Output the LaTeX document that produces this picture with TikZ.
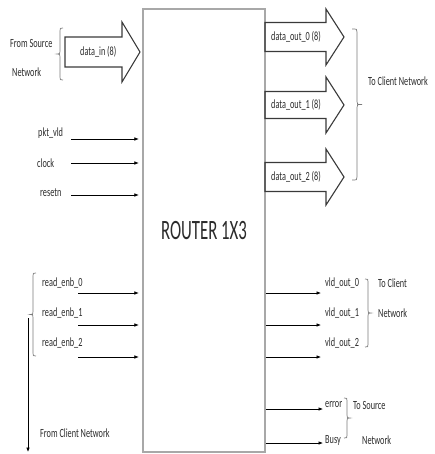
\documentclass[tikz,border=0pt]{standalone}
\usepackage{fontspec}
\newfontfamily\lblfont[FakeStretch=0.66]{Carlito}
\newfontfamily\ttlfont[FakeStretch=0.6]{Carlito}
\usetikzlibrary{arrows.meta}
\definecolor{txt}{HTML}{2B2B2B}
\definecolor{boxc}{HTML}{A8A8A8}
\definecolor{blkc}{HTML}{3A3A3A}
\definecolor{brkc}{HTML}{7A7A7A}
\newcommand\mybrace[4]{% x, top, bottom, signed point size (+ points right)
  \draw[brk] ({#1-#4},#2) .. controls ({#1},#2) .. ({#1},{#2+3})
    -- ({#1},{(#2+#3)/2-3}) .. controls ({#1},{(#2+#3)/2}) .. ({#1+#4},{(#2+#3)/2})
    .. controls ({#1},{(#2+#3)/2}) .. ({#1},{(#2+#3)/2+3})
    -- ({#1},{#3-3}) .. controls ({#1},#3) .. ({#1-#4},#3);}
\newcommand\blockarrow[6]{% x1, x2, xtip, yc, shaft half, head half
  \draw[blk] (#1,{#4-#5}) -- (#2,{#4-#5}) -- (#2,{#4-#6}) -- (#3,#4)
    -- (#2,{#4+#6}) -- (#2,{#4+#5}) -- (#1,{#4+#5}) -- cycle;}
\begin{document}
\begin{tikzpicture}[x=1pt,y=-1pt,
  lbl/.style={font=\lblfont\fontsize{12.5}{14}\selectfont, text=txt, inner sep=0pt, anchor=west},
  blk/.style={draw=blkc, line width=1.1pt, line join=miter},
  sig/.style={draw=black, line width=0.7pt, -{Latex[length=4.5pt,width=3.6pt]}},
  brk/.style={draw=brkc, line width=0.7pt}]
\useasboundingbox (0,0) rectangle (435,454);

\node[draw=boxc, line width=1.3pt, minimum width=122pt, minimum height=443pt, inner sep=0pt,
      font=\ttlfont\fontsize{28}{30}\selectfont, text=txt] (router) at (204,230.5) {ROUTER 1X3};

% input bus
\blockarrow{65}{122}{140}{52}{15}{30}
\node[lbl] (din) at (80,52) {data\_in (8)};
\node[lbl] (fs1) at (10,43) {From Source};
\node[lbl] (fs2) at (12,72) {Network};
\mybrace{60}{28}{80}{-3}

% output buses
\blockarrow{265}{326}{344}{37}{14.5}{28}
\blockarrow{265}{326}{344}{105}{13.5}{28}
\blockarrow{265}{326}{344}{177}{14.5}{28}
\node[lbl] (do0) at (271,37) {data\_out\_0 (8)};
\node[lbl] (do1) at (271,105) {data\_out\_1 (8)};
\node[lbl] (do2) at (271,177) {data\_out\_2 (8)};
\mybrace{357}{29}{180}{5}
\node[lbl] (tcn) at (368,81) {To Client Network};

% control inputs
\node[lbl] (pkt) at (38,133) {pkt\_vld};
\node[lbl] (clk) at (37,163) {clock};
\node[lbl] (rst) at (40,193) {resetn};
\coordinate (pktS) at (71,139);
\coordinate (clkS) at (71,163);
\coordinate (rstS) at (71,195);
\draw[sig, shorten >=3.5pt] (pktS) -- (pktS -| router.west);
\draw[sig, shorten >=3.5pt] (clkS) -- (clkS -| router.west);
\draw[sig, shorten >=3.5pt] (rstS) -- (rstS -| router.west);

% read enables
\node[lbl] (re0) at (42,283) {read\_enb\_0};
\node[lbl] (re1) at (42,313) {read\_enb\_1};
\node[lbl] (re2) at (42,343) {read\_enb\_2};
\coordinate (re0S) at (78,293);
\coordinate (re1S) at (78,325);
\coordinate (re2S) at (78,357);
\draw[sig, shorten >=3.5pt] (re0S) -- (re0S -| router.west);
\draw[sig, shorten >=3.5pt] (re1S) -- (re1S -| router.west);
\draw[sig, shorten >=3.5pt] (re2S) -- (re2S -| router.west);
\mybrace{33}{273}{356}{-3}
\coordinate (fcTop) at (28,318);
\coordinate (fcBot) at (28,452);
\draw[sig] (fcTop) -- (fcBot);
\node[lbl] (fcn) at (40,433) {From Client Network};

% valid outputs
\coordinate (v0E) at (321,293);
\coordinate (v1E) at (321,325);
\coordinate (v2E) at (321,357);
\draw[sig] (v0E -| router.east) -- (v0E);
\draw[sig] (v1E -| router.east) -- (v1E);
\draw[sig] (v2E -| router.east) -- (v2E);
\node[lbl] (vo0) at (325,283) {vld\_out\_0};
\node[lbl] (vo1) at (325,313) {vld\_out\_1};
\node[lbl] (vo2) at (325,343) {vld\_out\_2};
\mybrace{368}{279}{347}{3}
\node[lbl] (tc1) at (378,283) {To Client};
\node[lbl] (tc2) at (378,313) {Network};

% status outputs
\coordinate (erE) at (323,409);
\coordinate (buE) at (323,443);
\draw[sig] (erE -| router.east) -- (erE);
\draw[sig] (buE -| router.east) -- (buE);
\node[lbl] (err) at (325,405) {error};
\node[lbl] (bsy) at (325,440) {Busy};
\mybrace{347}{398}{438}{3}
\node[lbl] (ts1) at (353,405) {To Source};
\node[lbl] (ts2) at (362,440) {Network};
\end{tikzpicture}
\end{document}
